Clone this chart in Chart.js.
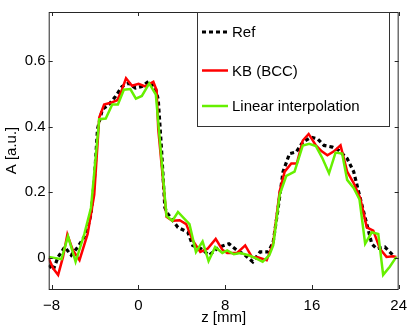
<!DOCTYPE html>
<html>
<head>
<meta charset="utf-8">
<script src="https://cdn.jsdelivr.net/npm/chart.js@4.4.0/dist/chart.umd.min.js"></script>
<style>
  html, body { margin: 0; padding: 0; background: #fff; }
  canvas { display: block; }
</style>
</head>
<body>
<canvas id="c" width="415" height="328"></canvas>
<script>
// values: z in mm, A in a.u.
const refZ = [-8.27, -7.86, -7.40, -6.79, -6.19, -5.59, -4.82, -4.37, -4.07, -3.77, -3.32, -2.71, -2.10, -1.50, -0.89, -0.28, 0.32, 0.93, 1.53, 1.83, 2.13, 2.44, 2.74, 3.65, 4.56, 5.01, 5.77, 6.53, 7.44, 8.35, 9.10, 9.85, 10.55, 11.22, 11.98, 12.43, 12.89, 13.34, 13.94, 14.55, 15.16, 15.91, 16.52, 17.12, 17.88, 18.48, 19.25, 19.85, 20.30, 20.75, 21.06, 21.52, 21.97, 22.73, 23.48];
const refA = [-0.022, -0.037, 0.003, 0.033, 0.008, 0.033, 0.073, 0.133, 0.233, 0.393, 0.453, 0.468, 0.493, 0.523, 0.533, 0.518, 0.523, 0.538, 0.523, 0.483, 0.333, 0.153, 0.133, 0.093, 0.078, 0.038, 0.028, 0.008, 0.033, 0.043, 0.023, 0.008, -0.012, 0.018, 0.018, 0.048, 0.153, 0.263, 0.318, 0.323, 0.353, 0.368, 0.363, 0.343, 0.338, 0.328, 0.303, 0.263, 0.203, 0.143, 0.103, 0.043, 0.028, 0.033, 0.008];

const kbZ = [-8.27, -7.86, -7.40, -6.95, -6.55, -6.04, -5.43, -4.68, -4.07, -3.61, -3.16, -2.55, -1.95, -1.55, -1.14, -0.59, 0.02, 0.63, 1.38, 1.68, 1.83, 2.59, 3.13, 3.81, 4.41, 5.01, 5.71, 6.38, 7.13, 7.74, 8.19, 9.10, 9.85, 10.46, 11.07, 11.83, 12.43, 13.03, 13.49, 14.10, 14.61, 15.16, 15.70, 16.37, 16.91, 17.43, 18.03, 18.64, 19.25, 19.85, 20.45, 21.06, 21.66, 22.27, 22.88, 23.48, 23.79];
const kbA = [-0.002, -0.032, -0.052, 0.003, 0.071, 0.023, -0.007, 0.073, 0.193, 0.428, 0.468, 0.473, 0.481, 0.510, 0.548, 0.525, 0.531, 0.523, 0.537, 0.511, 0.393, 0.125, 0.113, 0.115, 0.103, 0.053, 0.018, 0.028, 0.058, 0.025, 0.015, 0.015, 0.038, 0.003, 0.001, -0.007, 0.045, 0.203, 0.263, 0.288, 0.288, 0.358, 0.378, 0.343, 0.325, 0.313, 0.325, 0.343, 0.263, 0.228, 0.183, 0.093, 0.083, 0.028, 0.003, 0.005, 0.003];

const linZ = [-8.27, -7.09, -6.49, -5.79, -4.98, -4.37, -3.61, -3.01, -2.41, -1.89, -1.34, -0.74, -0.23, 0.32, 1.00, 1.61, 2.59, 3.13, 3.65, 4.71, 5.31, 5.92, 6.47, 7.08, 7.74, 8.19, 8.80, 9.40, 10.16, 10.76, 11.46, 12.07, 12.43, 13.03, 13.64, 14.40, 15.16, 15.76, 16.37, 16.98, 17.58, 18.18, 18.79, 19.25, 19.85, 20.39, 20.91, 21.52, 22.12, 22.57, 23.18, 23.79];
const linA = [0.003, -0.004, 0.066, -0.012, 0.073, 0.153, 0.423, 0.425, 0.468, 0.468, 0.513, 0.515, 0.486, 0.494, 0.532, 0.498, 0.128, 0.113, 0.140, 0.103, 0.018, 0.050, -0.010, 0.033, 0.015, 0.023, 0.011, 0.015, 0.008, 0.000, -0.012, 0.008, 0.038, 0.193, 0.250, 0.263, 0.343, 0.348, 0.341, 0.303, 0.258, 0.321, 0.318, 0.238, 0.213, 0.178, 0.043, 0.078, 0.073, -0.052, -0.027, 0.003];

const xTicks = [-8, 0, 8, 16, 24];
const yTicks = [0, 0.2, 0.4, 0.6];
const labels = ['Ref', 'KB (BCC)', 'Linear interpolation'];

const pts = (xs, ys) => xs.map((x, i) => ({ x, y: ys[i] }));
const FONT = { family: 'Liberation Sans, Arial, Helvetica, sans-serif', size: 15 };

// box round the plot with the ticks drawn inwards, like matlab
const frame = {
  id: 'frame',
  afterDraw(chart) {
    const { ctx, chartArea: a, scales } = chart;
    ctx.save();
    ctx.strokeStyle = '#262626';
    ctx.lineWidth = 1;
    ctx.strokeRect(a.left + 0.5, a.top + 0.5, a.right - a.left - 1, a.bottom - a.top);
    ctx.beginPath();
    xTicks.forEach(t => {
      const px = Math.round(scales.x.getPixelForValue(t)) + 0.5;
      ctx.moveTo(px, a.bottom); ctx.lineTo(px, a.bottom - 4);
      ctx.moveTo(px, a.top); ctx.lineTo(px, a.top + 4);
    });
    yTicks.forEach(t => {
      const py = Math.round(scales.y.getPixelForValue(t)) + 0.5;
      ctx.moveTo(a.left, py); ctx.lineTo(a.left + 4, py);
      ctx.moveTo(a.right, py); ctx.lineTo(a.right - 4, py);
    });
    ctx.stroke();
    ctx.restore();
  }
};

// legend box in the top right corner
const legendBox = {
  id: 'legendBox',
  afterDraw(chart) {
    const { ctx } = chart;
    const bx = 197, by = 12, bw = 192, bh = 114;
    const rows = [32, 70.5, 106];
    ctx.save();
    ctx.fillStyle = '#fff';
    ctx.fillRect(bx, by, bw, bh);
    ctx.strokeStyle = '#333';
    ctx.lineWidth = 1;
    ctx.strokeRect(bx + 0.5, by + 0.5, bw, bh);
    chart.data.datasets.forEach((ds, i) => {
      ctx.beginPath();
      ctx.strokeStyle = ds.borderColor;
      ctx.lineWidth = ds.borderWidth;
      ctx.setLineDash(ds.borderDash || []);
      ctx.moveTo(202, rows[i]); ctx.lineTo(228, rows[i]);
      ctx.stroke();
      ctx.setLineDash([]);
      ctx.fillStyle = '#000';
      ctx.font = FONT.size + 'px ' + FONT.family;
      ctx.textBaseline = 'middle';
      ctx.fillText(ds.label, 232, rows[i] + 1);
    });
    ctx.restore();
  }
};

new Chart(document.getElementById('c'), {
  type: 'line',
  data: {
    datasets: [
      { label: labels[0], data: pts(refZ, refA), borderColor: '#000', borderWidth: 3.2, borderDash: [4, 3], order: 2 },
      { label: labels[1], data: pts(kbZ, kbA), borderColor: '#ff0000', borderWidth: 2.5, order: 1 },
      { label: labels[2], data: pts(linZ, linA), borderColor: '#66f000', borderWidth: 2.5, order: 0 }
    ]
  },
  options: {
    responsive: false,
    animation: false,
    events: [],
    layout: { padding: { left: 0, top: 9, right: 11, bottom: 0 } },
    elements: { point: { radius: 0 }, line: { tension: 0, fill: false } },
    plugins: { legend: { display: false }, tooltip: { enabled: false } },
    scales: {
      x: {
        type: 'linear', min: -8.27, max: 24,
        afterBuildTicks: s => { s.ticks = xTicks.map(v => ({ value: v })); },
        afterFit: s => { s.height = 39; },
        grid: { display: false, drawTicks: false },
        border: { display: false },
        ticks: { color: '#000', font: FONT, padding: 8, maxRotation: 0, callback: v => String(v).replace('-', '\u2212') },
        title: { display: true, text: 'z [mm]', color: '#000', font: FONT, padding: { top: 0, bottom: 1 } }
      },
      y: {
        type: 'linear', min: -0.095, max: 0.75,
        afterBuildTicks: s => { s.ticks = yTicks.map(v => ({ value: v })); },
        afterFit: s => { s.width = 48.7; },
        grid: { display: false, drawTicks: false },
        border: { display: false },
        ticks: { color: '#000', font: FONT, padding: 3, callback: v => String(v) },
        title: { display: true, text: 'A [a.u.]', color: '#000', font: FONT, padding: { top: 3, bottom: 0 } }
      }
    }
  },
  plugins: [frame, legendBox]
});
</script>
</body>
</html>
